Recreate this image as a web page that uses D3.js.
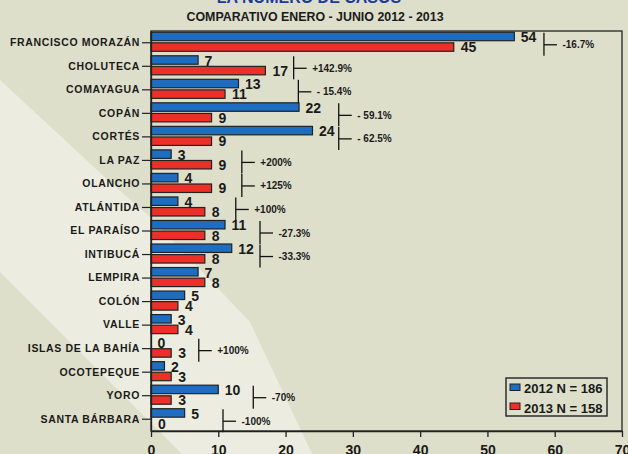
<!DOCTYPE html>
<html>
<head>
<meta charset="utf-8">
<script src="https://cdn.jsdelivr.net/npm/d3@7"></script>
<style>
  html, body { margin: 0; padding: 0; background: #dedfca; }
  svg { display: block; }
  text { font-family: "Liberation Sans", Arial, sans-serif; font-weight: bold; fill: #1a1a1a; }
  .pct { font-family: "Liberation Sans Narrow", "Arial Narrow", "Liberation Sans", Arial, sans-serif; }
</style>
</head>
<body>
<svg id="chart" width="628" height="454"></svg>
<script>
// Casos por departamento, enero-junio 2012 vs 2013

const departamentos = [
  "FRANCISCO MORAZÁN", "CHOLUTECA", "COMAYAGUA", "COPÁN", "CORTÉS", "LA PAZ",
  "OLANCHO", "ATLÁNTIDA", "EL PARAÍSO", "INTIBUCÁ", "LEMPIRA", "COLÓN",
  "VALLE", "ISLAS DE LA BAHÍA", "OCOTEPEQUE", "YORO", "SANTA BÁRBARA"
];
const casos2012 = [54, 7, 13, 22, 24, 3, 4, 4, 11, 12, 7, 5, 3, 0, 2, 10, 5];
const casos2013 = [45, 17, 11, 9, 9, 9, 9, 8, 8, 8, 8, 4, 4, 3, 3, 3, 0];
// % change notes and where their bracket sits (in case units)
const cambio = ["-16.7%", "+142.9%", "- 15.4%", "- 59.1%", "- 62.5%", "+200%", "+125%", "+100%",
  "-27.3%", "-33.3%", null, null, null, "+100%", null, "-70%", "-100%"];
const cambioEn = [58.4, 21.2, 21.9, 27.9, 27.9, 13.5, 13.5, 12.6, 16.2, 16.2, null, null, null, 7.1, null, 15.2, 10.7];
const xTicks = [0, 10, 20, 30, 40, 50, 60, 70];
const series = ["2012", "2013"];
const seriesLabels = ["2012 N = 186", "2013 N = 158"];

const COLOR = { "2012": "#1e6dc0", "2013": "#ec3029" };
const W = 628, H = 454;
const M = { left: 151, right: 622, top: 31, bottom: 431 };

const svg = d3.select("#chart");

// ---- background (slide template stripe) ----
svg.append("rect").attr("width", W).attr("height", H).attr("fill", "#dedfca");
svg.append("polygon")
  .attr("points", "0,80 110,182 150,217 250,322 312,454 182,454 0,272")
  .attr("fill", "#ecede0");

// ---- titles ----
svg.append("text").attr("x", 309).attr("y", 3).attr("text-anchor", "middle")
  .attr("font-size", 16).style("fill", "#1c3a9c").text("LA NÚMERO DE CASOS");
svg.append("text").attr("x", 315).attr("y", 20.5).attr("text-anchor", "middle")
  .attr("font-size", 12.4).text("COMPARATIVO ENERO - JUNIO 2012 - 2013");

// ---- scales ----
const rows = departamentos.map((d, i) => ({
  dep: d, "2012": casos2012[i], "2013": casos2013[i], pct: cambio[i], at: cambioEn[i]
}));

const x = d3.scaleLinear().domain([0, 70]).range([M.left, M.right]);
const y = d3.scaleBand().domain(departamentos).range([M.top, M.bottom])
  .paddingInner(0.19).paddingOuter(0.095);
const sub = d3.scaleBand().domain(series).range([0, y.bandwidth()]).paddingInner(0.2);

// ---- frame ----
svg.append("rect")
  .attr("x", M.left).attr("y", M.top)
  .attr("width", M.right - M.left).attr("height", M.bottom - M.top)
  .attr("fill", "none").attr("stroke", "#222").attr("stroke-width", 1.3);

// ---- bars ----
const g = svg.selectAll("g.row").data(rows).join("g")
  .attr("class", "row")
  .attr("transform", (d) => `translate(0,${y(d.dep) - 1})`);

g.selectAll("rect").data((d) => series.map((s) => ({ s, v: d[s] }))).join("rect")
  .attr("x", x(0))
  .attr("y", (d) => sub(d.s))
  .attr("width", (d) => x(d.v) - x(0))
  .attr("height", sub.bandwidth())
  .attr("fill", (d) => COLOR[d.s])
  .attr("stroke", "#222").attr("stroke-width", 1.2);

g.selectAll("text.val").data((d) => series.map((s) => ({ s, v: d[s] }))).join("text")
  .attr("class", "val")
  .attr("x", (d) => x(d.v) + (d.s === "2012" ? 6.5 : 7))
  .attr("y", (d) => sub(d.s) + sub.bandwidth() + (d.s === "2012" ? 1.5 : 1))
  .attr("font-size", 14)
  .text((d) => d.v);

// ---- change brackets ----
const notes = svg.selectAll("g.note").data(rows.filter((d) => d.pct)).join("g")
  .attr("class", "note")
  .attr("transform", (d) => `translate(${x(d.at)},${y(d.dep) + y.bandwidth() / 2})`);
notes.append("line").attr("x1", 0).attr("x2", 0).attr("y1", -10).attr("y2", 13)
  .attr("stroke", "#111").attr("stroke-width", 1.3);
notes.append("line").attr("x1", 0).attr("x2", 13).attr("y1", 2).attr("y2", 2)
  .attr("stroke", "#111").attr("stroke-width", 1.3);
notes.append("text").attr("class", "pct").attr("x", 18.5).attr("y", 5.5)
  .attr("font-size", 10).text((d) => d.pct);

// ---- axes ----
const yAxis = svg.append("g").attr("transform", `translate(${M.left},0)`)
  .call(d3.axisLeft(y).tickSize(9).tickPadding(2).tickSizeOuter(0));
yAxis.select(".domain").attr("stroke", "#222").attr("stroke-width", 1.3);
yAxis.selectAll(".tick line").attr("stroke", "#222").attr("stroke-width", 1.2);
yAxis.selectAll(".tick text")
  .attr("font-size", 10.5).attr("letter-spacing", "0.65px")
  .attr("font-family", null).style("fill", "#1a1a1a");

const xAxis = svg.append("g").attr("transform", `translate(0,${M.bottom})`)
  .call(d3.axisBottom(x).tickValues(xTicks).tickSize(6).tickPadding(8).tickSizeOuter(0));
xAxis.select(".domain").attr("stroke", "#222").attr("stroke-width", 1.3);
xAxis.selectAll(".tick line").attr("stroke", "#222").attr("stroke-width", 1.3);
xAxis.selectAll(".tick text").attr("font-size", 14).attr("font-family", null).style("fill", "#1a1a1a");

// ---- legend ----
const lg = svg.append("g").attr("transform", "translate(506,378)");
lg.append("rect").attr("width", 101).attr("height", 38)
  .attr("fill", "#dedfca").attr("stroke", "#222").attr("stroke-width", 1.4);
series.forEach((s, i) => {
  lg.append("rect").attr("x", 4).attr("y", 6 + i * 19).attr("width", 10).attr("height", 6.5)
    .attr("fill", COLOR[s]).attr("stroke", "#222").attr("stroke-width", 1);
  lg.append("text").attr("x", 18).attr("y", 15 + i * 20).attr("font-size", 13)
    .text(seriesLabels[i]);
});
</script>
</body>
</html>
